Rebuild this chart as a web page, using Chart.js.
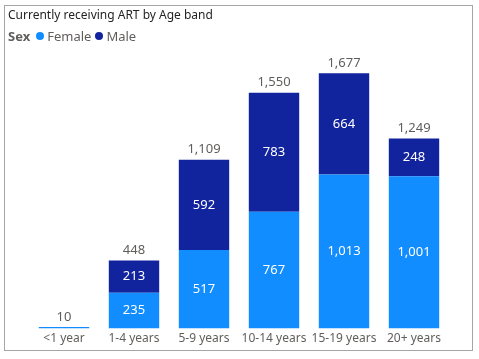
<!DOCTYPE html>
<html>
<head>
<meta charset="utf-8">
<script src="https://cdn.jsdelivr.net/npm/chart.js@4/dist/chart.umd.min.js"></script>
<style>
  html, body { margin: 0; padding: 0; background: #fff; }
  body { width: 479px; height: 359px; position: relative; overflow: hidden; font-family: "Noto Sans", "Open Sans", sans-serif; }
  #frame { position: absolute; left: 4px; top: 5px; width: 469px; height: 346px; border: 1px solid #a6a6a6; box-sizing: border-box; }
  #title { position: absolute; left: 8px; top: 6px; font-size: 12px; color: #252423; white-space: nowrap; }
  #legend { position: absolute; left: 8px; top: 27px; font-size: 13px; color: #605E5C; white-space: nowrap; display: flex; align-items: center; }
  #legend b { color: #605E5C; font-weight: 700; margin-right: 6px; }
  .dot { display: inline-block; width: 8px; height: 8px; border-radius: 50%; margin-right: 3px; }
  .item { display: inline-flex; align-items: center; margin-right: 4px; }
  #c { position: absolute; left: 0; top: 0; }
</style>
</head>
<body>
<div id="frame"></div>
<canvas id="c" width="479" height="359"></canvas>
<div id="title">Currently receiving ART by Age band</div>
<div id="legend"><b>Sex</b><span class="item"><span class="dot" style="background:#118DFF"></span>Female</span><span class="item"><span class="dot" style="background:#12239E"></span>Male</span></div>
<script>
const categories = ["<1 year", "1-4 years", "5-9 years", "10-14 years", "15-19 years", "20+ years"];
const femaleValues = [10, 235, 517, 767, 1013, 1001];
const maleValues = [0, 213, 592, 783, 664, 248];
const seriesNames = ["Female", "Male"];

const fmt = v => v.toLocaleString("en-US");
const FONT = '"Noto Sans", "Open Sans", sans-serif';

const labelPlugin = {
  id: "barLabels",
  afterDatasetsDraw(chart) {
    const ctx = chart.ctx;
    ctx.save();
    ctx.textAlign = "center";
    ctx.textBaseline = "middle";
    chart.data.datasets.forEach((ds, di) => {
      const meta = chart.getDatasetMeta(di);
      meta.data.forEach((bar, i) => {
        const v = ds.data[i];
        const h = Math.abs(bar.base - bar.y);
        if (v > 0 && h > 16) {
          ctx.fillStyle = "#ffffff";
          ctx.font = "13px " + FONT;
          ctx.fillText(fmt(v), bar.x, (bar.y + bar.base) / 2);
        }
      });
    });
    const topMeta = chart.getDatasetMeta(chart.data.datasets.length - 1);
    topMeta.data.forEach((bar, i) => {
      const total = chart.data.datasets.reduce((s, ds) => s + ds.data[i], 0);
      ctx.fillStyle = "#605E5C";
      ctx.font = "13px " + FONT;
      ctx.fillText(fmt(total), bar.x, bar.y - 10);
    });
    ctx.restore();
  }
};

new Chart(document.getElementById("c"), {
  type: "bar",
  data: {
    labels: categories,
    datasets: [
      { label: seriesNames[0], data: femaleValues, backgroundColor: "#118DFF", borderWidth: 0 },
      { label: seriesNames[1], data: maleValues, backgroundColor: "#12239E", borderWidth: 0 }
    ]
  },
  options: {
    responsive: false,
    animation: false,
    layout: { padding: { left: 29, right: 30, top: 47, bottom: 10 } },
    plugins: { legend: { display: false }, title: { display: false }, tooltip: { enabled: false } },
    scales: {
      x: {
        stacked: true,
        categoryPercentage: 0.8,
        barPercentage: 1,
        grid: { display: false, drawTicks: false },
        border: { display: false },
        ticks: { color: "#605E5C", font: { family: FONT, size: 12 }, padding: 3, maxRotation: 0, autoSkip: false }
      },
      y: {
        stacked: true,
        display: false,
        min: 0,
        max: 1850
      }
    }
  },
  plugins: [labelPlugin]
});
</script>
</body>
</html>
